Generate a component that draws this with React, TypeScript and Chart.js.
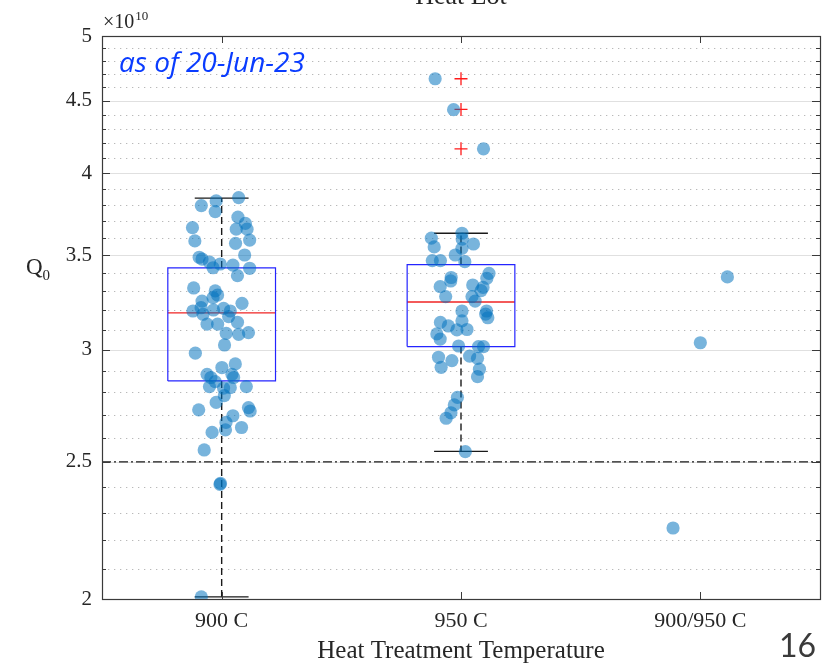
import React, { useEffect, useRef } from 'react';
import Chart from 'chart.js/auto';

// ---------- data (Q0 values in units of 1e10) ----------
const categories = ['900 C', '950 C', '900/950 C'];

const q900 = [3.794, 3.823, 3.757, 3.844, 3.660, 3.723, 3.686, 3.651, 3.651, 3.587, 3.582, 3.568, 3.501, 3.488, 3.478, 3.460, 3.450, 3.429, 3.444, 3.426, 3.385, 3.318, 3.302, 3.280, 3.266, 3.248, 3.236, 3.196, 3.213, 3.179, 3.201, 3.210, 3.196, 3.167, 3.138, 3.128, 3.128, 3.082, 3.077, 3.085, 3.024, 2.984, 2.915, 2.932, 2.883, 2.868, 2.883, 2.868, 2.849, 2.826, 2.821, 2.826, 2.819, 2.785, 2.754, 2.721, 2.731, 2.716, 2.695, 2.666, 2.644, 2.634, 2.623, 2.549, 2.414, 2.410, 2.007];
const jitter900 = [-0.085, -0.023, -0.027, 0.071, -0.122, 0.068, 0.099, 0.061, 0.106, 0.117, -0.112, 0.058, 0.096, -0.094, -0.082, -0.051, -0.006, -0.036, 0.047, 0.117, 0.066, -0.117, -0.027, -0.017, -0.036, -0.082, 0.085, -0.120, -0.086, -0.078, -0.034, 0.008, 0.036, 0.029, 0.066, -0.061, -0.017, 0.019, 0.071, 0.112, 0.012, -0.110, 0.001, 0.057, -0.061, -0.045, 0.043, 0.050, -0.027, -0.051, 0.036, 0.103, 0.008, 0.011, -0.023, -0.096, 0.112, 0.119, 0.047, 0.018, 0.083, 0.016, -0.040, -0.073, -0.005, -0.007, -0.085];

const q950 = [4.664, 4.435, 4.161, 3.627, 3.598, 3.593, 3.564, 3.547, 3.539, 3.501, 3.469, 3.469, 3.463, 3.375, 3.356, 3.398, 3.371, 3.325, 3.334, 3.321, 3.304, 3.272, 3.272, 3.248, 3.196, 3.180, 3.161, 3.196, 3.145, 3.137, 3.119, 3.079, 3.099, 3.101, 3.053, 3.019, 3.016, 3.016, 2.964, 2.948, 2.970, 2.959, 2.916, 2.907, 2.872, 2.777, 2.743, 2.708, 2.684, 2.542];
const jitter950 = [-0.108, -0.031, 0.094, 0.004, -0.124, 0.005, 0.052, -0.112, 0.004, -0.024, -0.120, -0.086, 0.016, -0.041, -0.043, 0.117, 0.108, -0.087, 0.049, 0.092, 0.084, -0.064, 0.046, 0.059, 0.107, 0.103, 0.112, 0.004, 0.004, -0.086, -0.053, -0.101, -0.017, 0.025, -0.087, -0.010, 0.073, 0.094, -0.094, -0.038, 0.036, 0.069, -0.083, 0.077, 0.069, -0.015, -0.028, -0.042, -0.062, 0.018];

const qMixed = [3.378, 3.035, 2.245];
const jitterMixed = [0.113, 0.0, -0.114];

// box-plot statistics for 900 C and 950 C
const boxQ1 = [2.852, 3.016];
const boxMedian = [3.186, 3.243];
const boxQ3 = [3.428, 3.447];
const whiskerLow = [2.007, 2.543];
const whiskerHigh = [3.841, 3.627];
const outliers950 = [4.664, 4.437, 4.161];

const thresholdValue = 2.5;

const yMajorTicks = [2, 2.5, 3, 3.5, 4, 4.5, 5];
const yTickLabels = ['2', '2.5', '3', '3.5', '4', '4.5', '5'];
const yMinorTicks: number[] = [];
for (let i = 20; i <= 50; i++) yMinorTicks.push(i / 10);

// ---------- styling constants ----------
const BOX_HALF = 0.225;
const CAP_HALF = 0.1125;
const SERIF = "'Liberation Serif', 'DejaVu Serif', serif";

const isMajor = (v: number) => yMajorTicks.some((m) => Math.abs(m - v) < 1e-6);

const decorPlugin = {
  id: 'decor',
  beforeDatasetsDraw(chart: any) {
    const { ctx, chartArea: ca, scales } = chart;
    const y = scales.y;
    ctx.save();
    ctx.lineWidth = 1;
    ctx.strokeStyle = '#b9b9b9';
    ctx.setLineDash([1.3, 4.7]);
    for (const v of yMinorTicks) {
      if (isMajor(v)) continue;
      const py = Math.round(y.getPixelForValue(v)) + 0.5;
      ctx.beginPath();
      ctx.moveTo(ca.left, py);
      ctx.lineTo(ca.right, py);
      ctx.stroke();
    }
    ctx.setLineDash([]);
    ctx.strokeStyle = '#e0e0e0';
    for (const v of yMajorTicks) {
      const py = Math.round(y.getPixelForValue(v)) + 0.5;
      ctx.beginPath();
      ctx.moveTo(ca.left, py);
      ctx.lineTo(ca.right, py);
      ctx.stroke();
    }
    ctx.restore();
  },
  afterDraw(chart: any) {
    const { ctx, chartArea: ca, scales } = chart;
    const x = scales.x;
    const y = scales.y;
    ctx.save();
    // frame
    ctx.strokeStyle = '#3a3a3a';
    ctx.lineWidth = 1.2;
    ctx.strokeRect(Math.round(ca.left) + 0.5, Math.round(ca.top) + 0.5, Math.round(ca.right - ca.left), Math.round(ca.bottom - ca.top));
    // y ticks (inward, both sides)
    ctx.lineWidth = 1;
    for (const v of yMinorTicks) {
      const len = isMajor(v) ? 8 : 4;
      const py = Math.round(y.getPixelForValue(v)) + 0.5;
      ctx.beginPath();
      ctx.moveTo(ca.left, py);
      ctx.lineTo(ca.left + len, py);
      ctx.moveTo(ca.right, py);
      ctx.lineTo(ca.right - len, py);
      ctx.stroke();
    }
    // x ticks (inward, top & bottom)
    categories.forEach((_, i) => {
      const px = Math.round(x.getPixelForValue(i + 1)) + 0.5;
      ctx.beginPath();
      ctx.moveTo(px, ca.bottom);
      ctx.lineTo(px, ca.bottom - 7);
      ctx.moveTo(px, ca.top);
      ctx.lineTo(px, ca.top + 7);
      ctx.stroke();
    });
    // texts
    ctx.fillStyle = '#262626';
    ctx.textBaseline = 'alphabetic';
    ctx.textAlign = 'center';
    ctx.font = `26px ${SERIF}`;
    ctx.fillText('Heat Lot', (ca.left + ca.right) / 2, 4);

    ctx.textAlign = 'left';
    ctx.font = `20px ${SERIF}`;
    ctx.fillText('\u00d710', ca.left + 1, 28);
    const w10 = ctx.measureText('\u00d710').width;
    ctx.font = `13px ${SERIF}`;
    ctx.fillText('10', ca.left + 2 + w10, 20);

    ctx.font = `23px ${SERIF}`;
    ctx.fillText('Q', 26, 274);
    const wq = ctx.measureText('Q').width;
    ctx.font = `15px ${SERIF}`;
    ctx.fillText('0', 26 + wq, 280);

    // annotation, sized to span the same width as in the slide
    ctx.fillStyle = '#0a3cff';
    const note = 'as of 20-Jun-23';
    ctx.font = `italic 24px 'Open Sans', 'Noto Sans', sans-serif`;
    const wn = ctx.measureText(note).width;
    const fs = Math.max(20, Math.min(28, (24 * 196) / wn));
    ctx.font = `italic ${fs.toFixed(1)}px 'Open Sans', 'Noto Sans', sans-serif`;
    ctx.fillText(note, 119, 72);

    ctx.fillStyle = '#3a3a3a';
    ctx.font = `32px Lato, 'Open Sans', sans-serif`;
    ctx.fillText('16', 779, 657);
    ctx.restore();
  },
};

export default function App() {
  const ref = useRef<HTMLCanvasElement | null>(null);

  useEffect(() => {
    const canvas = ref.current;
    if (!canvas) return;

    const pts900 = q900.map((v, i) => ({ x: 1 + jitter900[i], y: v }));
    const pts950 = q950.map((v, i) => ({ x: 2 + jitter950[i], y: v }));
    const ptsMixed = qMixed.map((v, i) => ({ x: 3 + jitterMixed[i], y: v }));

    const boxPts: any[] = [];
    const medPts: any[] = [];
    const whiskPts: any[] = [];
    const capPts: any[] = [];
    boxQ1.forEach((q1, i) => {
      const c = i + 1;
      const q3 = boxQ3[i];
      boxPts.push({ x: c - BOX_HALF, y: q1 }, { x: c + BOX_HALF, y: q1 }, { x: c + BOX_HALF, y: q3 }, { x: c - BOX_HALF, y: q3 }, { x: c - BOX_HALF, y: q1 }, { x: c, y: null });
      medPts.push({ x: c - BOX_HALF, y: boxMedian[i] }, { x: c + BOX_HALF, y: boxMedian[i] }, { x: c, y: null });
      whiskPts.push({ x: c, y: q3 }, { x: c, y: whiskerHigh[i] }, { x: c, y: null }, { x: c, y: q1 }, { x: c, y: whiskerLow[i] }, { x: c, y: null });
      capPts.push({ x: c - CAP_HALF, y: whiskerHigh[i] }, { x: c + CAP_HALF, y: whiskerHigh[i] }, { x: c, y: null }, { x: c - CAP_HALF, y: whiskerLow[i] }, { x: c + CAP_HALF, y: whiskerLow[i] }, { x: c, y: null });
    });
    const outPts = outliers950.map((v) => ({ x: 2, y: v }));

    const lineBase = { showLine: true, pointRadius: 0, spanGaps: false, fill: false };
    const pointColor = 'rgba(0,114,189,0.53)';

    const chart = new Chart(canvas, {
      type: 'scatter',
      data: {
        datasets: [
          { label: '900 C', data: pts900, backgroundColor: pointColor, borderWidth: 0, pointRadius: 6.6, order: 1 },
          { label: '950 C', data: pts950, backgroundColor: pointColor, borderWidth: 0, pointRadius: 6.6, order: 1 },
          { label: '900/950 C', data: ptsMixed, backgroundColor: pointColor, borderWidth: 0, pointRadius: 6.6, order: 1 },
          { label: 'outliers', data: outPts, pointStyle: 'cross', pointRadius: 6.5, borderColor: '#ff1a1a', borderWidth: 1.3, backgroundColor: '#ff1a1a', order: 2 },
          { label: 'box', data: boxPts, ...lineBase, borderColor: '#2424ff', borderWidth: 1.2, order: 3 },
          { label: 'median', data: medPts, ...lineBase, borderColor: '#f02525', borderWidth: 1.3, order: 3 },
          { label: 'whisker', data: whiskPts, ...lineBase, borderColor: '#1a1a1a', borderWidth: 1.4, borderDash: [7, 4], order: 4 },
          { label: 'cap', data: capPts, ...lineBase, borderColor: '#1a1a1a', borderWidth: 1.3, order: 4 },
          { label: 'threshold', data: [{ x: 0.5, y: thresholdValue }, { x: 3.5, y: thresholdValue }], ...lineBase, borderColor: '#1a1a1a', borderWidth: 1.3, borderDash: [9, 3, 2, 3], order: 5 },
        ],
      },
      options: {
        animation: false,
        responsive: false,
        devicePixelRatio: 1,
        events: [],
        layout: { padding: { left: 0, top: 36, right: 13, bottom: 0 } },
        plugins: { legend: { display: false }, tooltip: { enabled: false }, title: { display: false } },
        scales: {
          x: {
            type: 'linear',
            min: 0.5,
            max: 3.5,
            afterBuildTicks: (s: any) => { s.ticks = categories.map((_, i) => ({ value: i + 1 })); },
            afterFit: (s: any) => { s.height = 65; },
            ticks: {
              autoSkip: false,
              maxRotation: 0,
              padding: 9,
              color: '#262626',
              font: { family: SERIF, size: 22 },
              callback: (v: any) => categories[Math.round(Number(v)) - 1] ?? '',
            },
            grid: { display: false, drawTicks: false },
            border: { display: false },
            title: {
              display: true,
              text: 'Heat Treatment Temperature',
              color: '#262626',
              font: { family: SERIF, size: 25, lineHeight: 1 },
              padding: { top: 0, bottom: 0 },
            },
          },
          y: {
            type: 'logarithmic',
            min: 2,
            max: 5,
            afterBuildTicks: (s: any) => { s.ticks = yMinorTicks.map((v) => ({ value: v })); },
            afterFit: (s: any) => { s.width = 102; },
            ticks: {
              autoSkip: false,
              padding: 10,
              color: '#262626',
              font: { family: SERIF, size: 21 },
              callback: (v: any) => {
                const idx = yMajorTicks.findIndex((m) => Math.abs(m - Number(v)) < 1e-6);
                return idx >= 0 ? yTickLabels[idx] : '';
              },
            },
            grid: { display: false, drawTicks: false },
            border: { display: false },
          },
        },
      },
      plugins: [decorPlugin],
    } as any);

    return () => chart.destroy();
  }, []);

  return (
    <div style={{ position: 'fixed', left: 0, top: 0, width: 833, height: 664, background: '#ffffff' }}>
      <canvas ref={ref} width={833} height={664} style={{ width: 833, height: 664, display: 'block' }} />
    </div>
  );
}
